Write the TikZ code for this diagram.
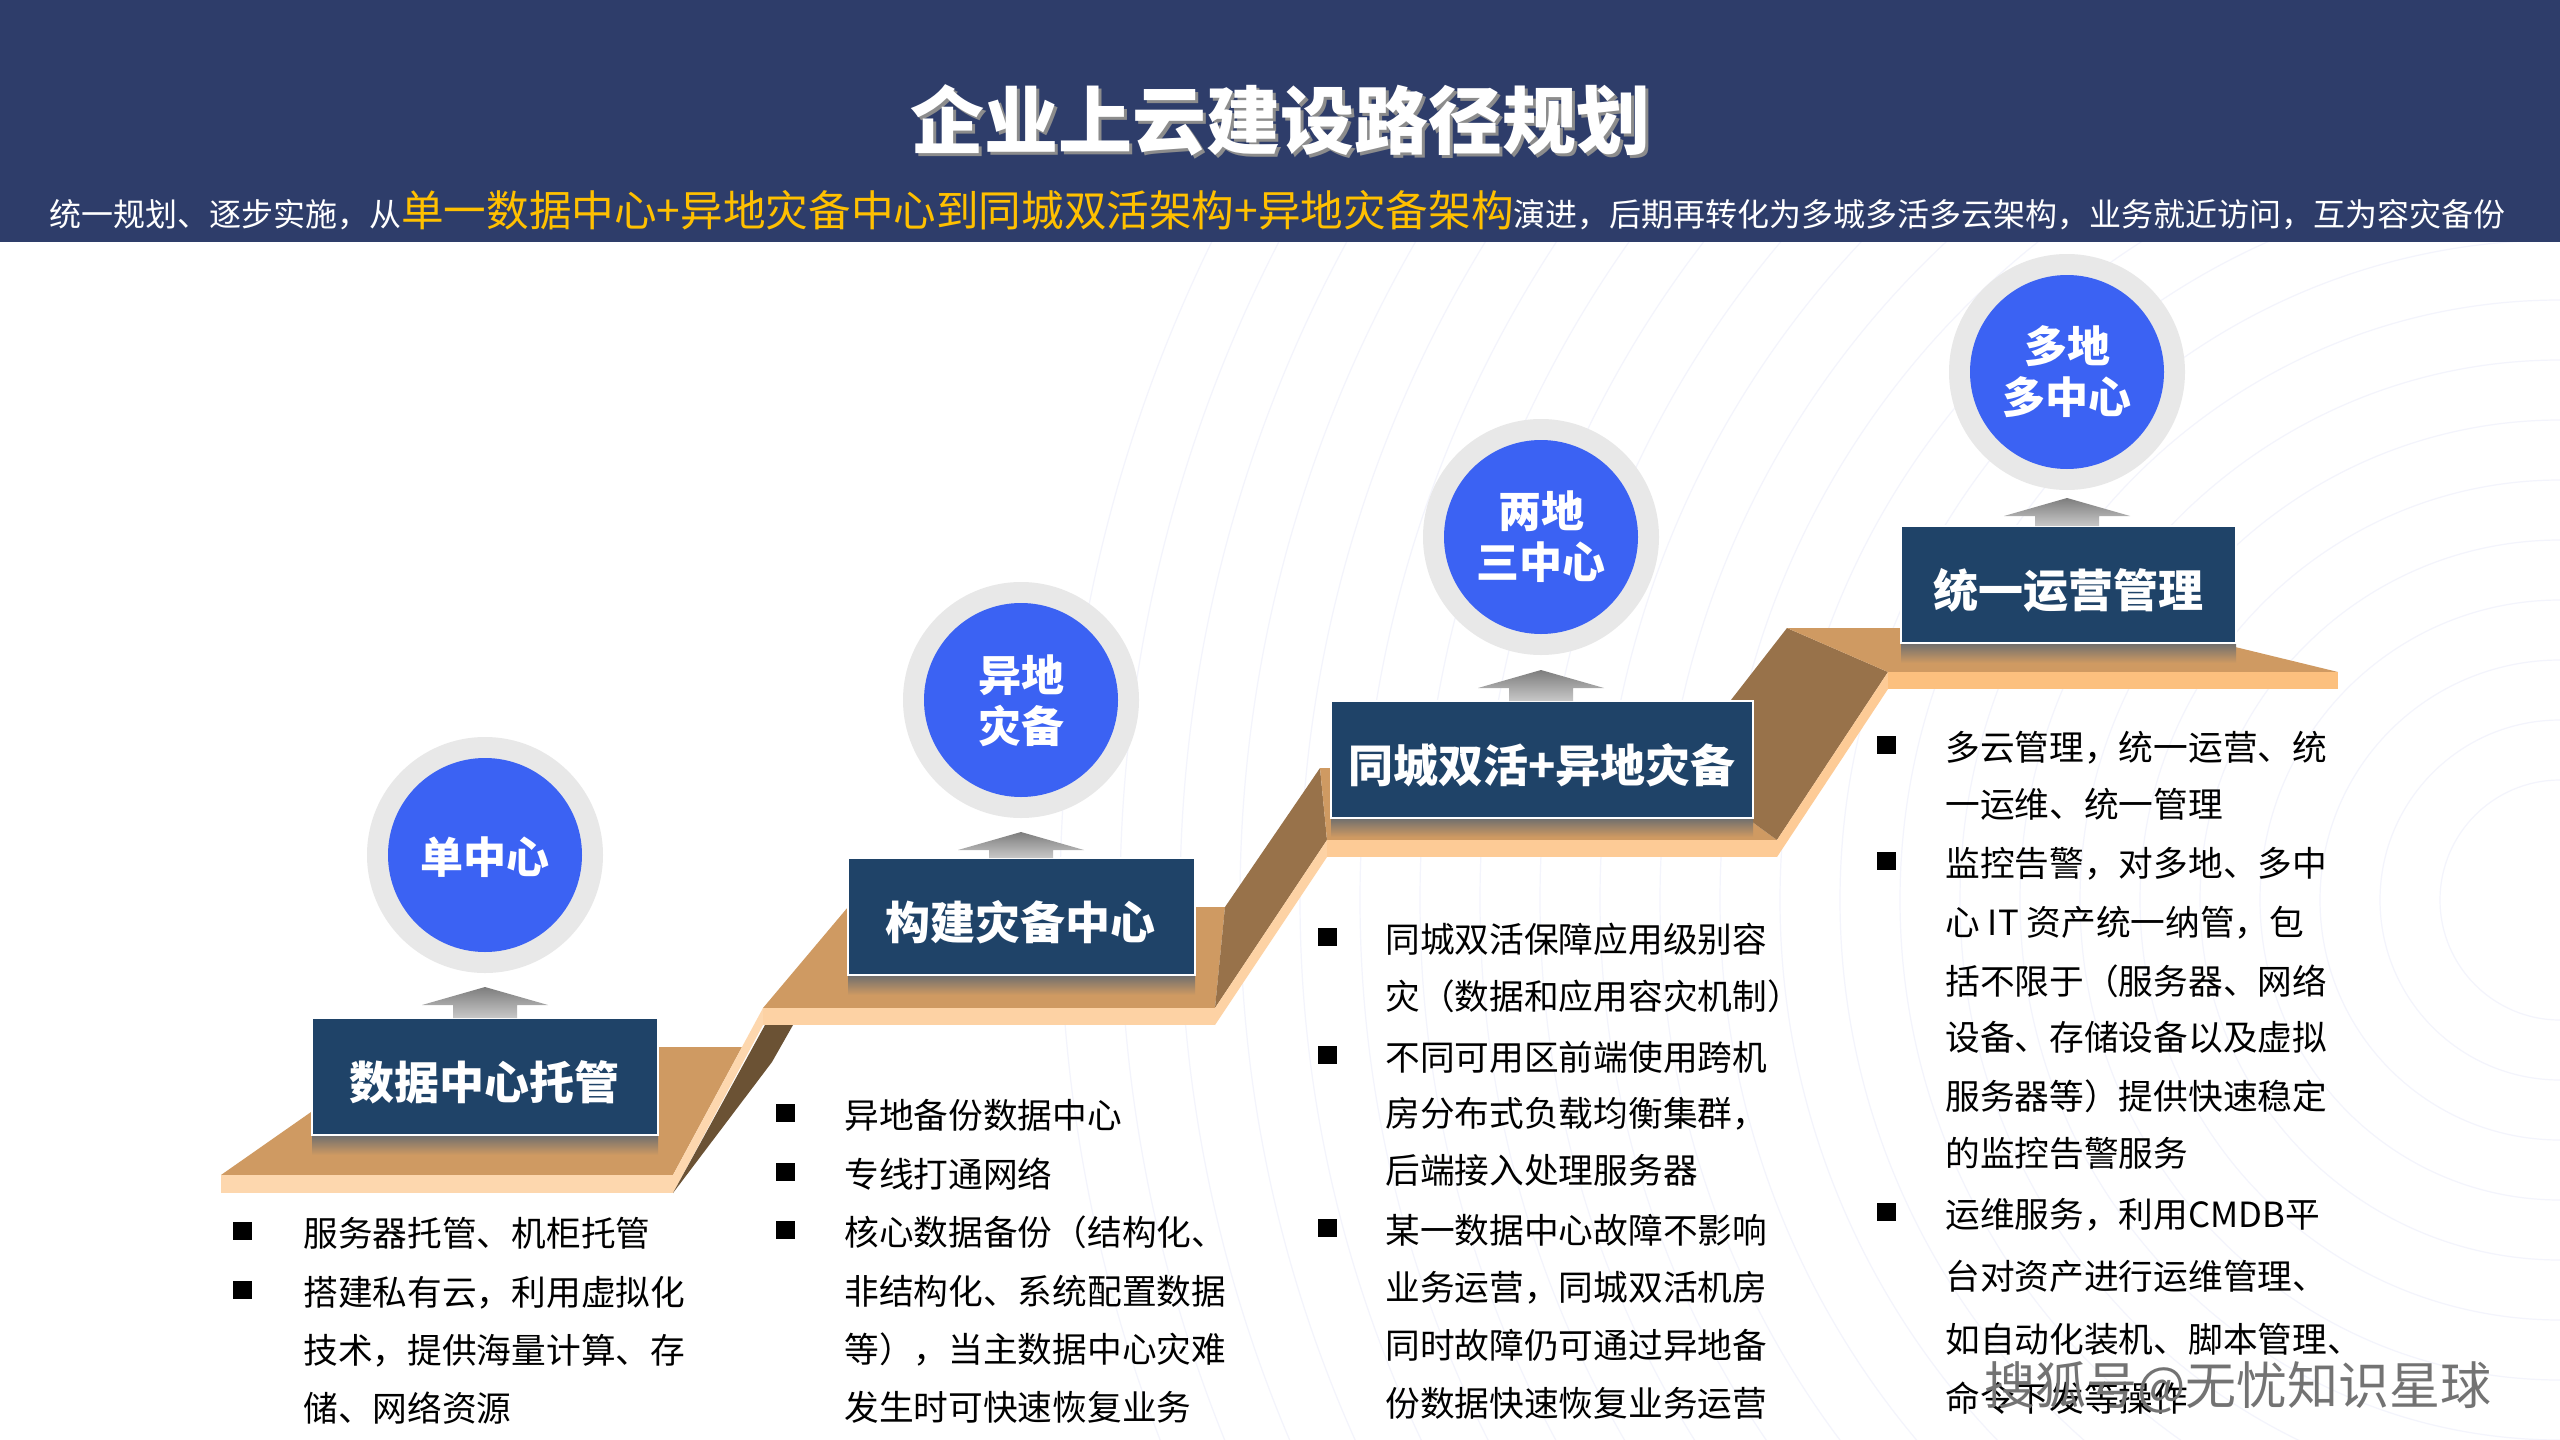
\documentclass[tikz,border=0pt]{standalone}
\usepackage{fontspec}
\setmainfont{Noto Sans CJK SC}
\definecolor{hdr}{HTML}{2E3D6A}
\definecolor{subyel}{HTML}{FFC000}
\definecolor{boxblue}{HTML}{1F4368}
\definecolor{ballblue}{HTML}{3B62F3}
\definecolor{ringgray}{HTML}{E8E8E8}
\definecolor{stepTan}{HTML}{CF9A62}
\definecolor{peachA}{HTML}{FDD7AE}
\definecolor{peachB}{HTML}{FDD2A4}
\definecolor{peachC}{HTML}{FDCB96}
\definecolor{peachD}{HTML}{FCC07E}
\definecolor{riserBrown}{HTML}{98724A}
\definecolor{underBrown}{HTML}{6B5234}
\definecolor{arcline}{HTML}{F3F4FC}
\definecolor{arrowTop}{HTML}{7D7D7D}
\definecolor{arrowBot}{HTML}{C8C8C8}
\definecolor{shadowGray}{HTML}{6E6E6E}
\begin{document}
\begin{tikzpicture}[x=0.5pt,y=-0.5pt,
  stepbox/.style={rectangle, fill=boxblue, draw=white, line width=0.6pt, minimum height=58.5pt, inner sep=0},
  ball/.style={circle, fill=ballblue, minimum size=97pt, inner sep=0},
  ringc/.style={circle, fill=ringgray, minimum size=118pt, inner sep=0},
  boxtext/.style={font=\fontsize{22.5}{24}\selectfont\bfseries, text=white, anchor=base, inner sep=0},
  balltext/.style={font=\fontsize{21.5}{24}\selectfont\bfseries, text=white, anchor=base, inner sep=0},
  body/.style={font=\fontsize{17.35}{20}\selectfont, anchor=base west, inner sep=0, text=black},
  bulletsq/.style={rectangle, fill=black, minimum width=9.5pt, minimum height=9pt, inner sep=0},
  topface/.style={fill=stepTan},
  boxshadow/.style={top color=shadowGray, bottom color=stepTan},
  uparrow/.style={top color=arrowTop, bottom color=arrowBot},
  wm/.style={font=\fontsize{25.5}{28}\selectfont, anchor=base west, inner sep=0}
]
\useasboundingbox (0,0) rectangle (2560,1440);
\fill[white] (0,0) rectangle (2560,1440);

% faint background arcs
\begin{scope}
  \clip (0,242) rectangle (2560,1440);
  \foreach \r in {120,180,...,1500}
    \draw[arcline, line width=0.6pt] (2560,900) circle[radius=\r];
\end{scope}

% header
\fill[hdr] (0,0) rectangle (2560,242);
\node[font=\fontsize{37}{40}\selectfont\bfseries, text=black!45, anchor=base, inner sep=0] (titleshadow) at (1283,151) {企业上云建设路径规划};
\node[font=\fontsize{37}{40}\selectfont\bfseries, text=white, anchor=base, inner sep=0] (title) at (1280,148) {企业上云建设路径规划};
\node[font=\fontsize{16}{20}\selectfont, text=white, anchor=base west, inner sep=0] (subtitle) at (49,226.5)
  {统一规划、逐步实施，从{\color{subyel}\fontsize{21.3}{24}\selectfont 单一数据中心+异地灾备中心到同城双活架构+异地灾备架构}演进，后期再转化为多城多活多云架构，业务就近访问，互为容灾备份};

% ---- staircase ----
% step 1
\fill[topface] (221,1175) -- (404,1047) -- (742,1047) -- (673,1175) -- cycle;
\fill[peachA] (221,1175) rectangle (673,1193);
\fill[peachA] (673,1175) -- (763,1008) -- (763,1025) -- (673,1193) -- cycle;
\fill[underBrown] (673,1193) -- (765,1025) -- (793,1025) -- (772,1062) -- cycle;
% step 2
\fill[topface] (763,1008) -- (848,907) -- (1225,907) -- (1215,1008) -- cycle;
\fill[peachB] (763,1008) rectangle (1215,1025);
\fill[riserBrown] (1215,1008) -- (1225,907) -- (1320,768) -- (1327,840) -- cycle;
\fill[peachB] (1215,1008) -- (1327,840) -- (1327,857) -- (1215,1025) -- cycle;
% step 3
\fill[topface] (1327,840) -- (1320,768) -- (1678,768) -- (1777,840) -- cycle;
\fill[peachC] (1327,840) rectangle (1777,857);
\fill[riserBrown] (1777,840) -- (1678,768) -- (1787,628) -- (1888,672) -- cycle;
\fill[peachC] (1777,840) -- (1888,672) -- (1888,689) -- (1777,857) -- cycle;
% step 4
\fill[topface] (1888,672) -- (1787,628) -- (2157,628) -- (2338,672) -- cycle;
\fill[peachD] (1888,672) rectangle (2338,689);

% box shadows
\shade[boxshadow] (312,1135) rectangle (658,1155);
\shade[boxshadow] (848,975) rectangle (1195,995);
\shade[boxshadow] (1331,818) rectangle (1753,837);
\shade[boxshadow] (1901,643) rectangle (2236,663);

% boxes
\node[stepbox, minimum width=173pt] (b1) at (485,1076.5) {};
\node[stepbox, minimum width=173.5pt] (b2) at (1021.5,916.5) {};
\node[stepbox, minimum width=211pt] (b3) at (1542,759.5) {};
\node[stepbox, minimum width=167.5pt] (b4) at (2068.5,584.5) {};
\node[boxtext] (b1t) at (484,1099) {数据中心托管};
\node[boxtext] (b2t) at (1020,939) {构建灾备中心};
\node[boxtext] (b3t) at (1542,782) {同城双活+异地灾备};
\node[boxtext] (b4t) at (2068,607) {统一运营管理};

% up arrows (box -> circle)
\foreach \cx/\tip/\bt in {485/987/1018, 1021/832/858, 1541/670/701, 2067/498/526}{
  \shade[uparrow] (\cx,\tip) -- ({\cx+63},{\tip+18}) -- ({\cx+32},{\tip+18}) -- ({\cx+32},\bt)
     -- ({\cx-32},\bt) -- ({\cx-32},{\tip+18}) -- ({\cx-63},{\tip+18}) -- cycle;
}

% circles
\node[ringc] (r1) at (485,855) {};
\node[ball] (c1) at (485,855) {};
\node[ringc] (r2) at (1021,700) {};
\node[ball] (c2) at (1021,700) {};
\node[ringc] (r3) at (1541,537) {};
\node[ball] (c3) at (1541,537) {};
\node[ringc] (r4) at (2067,372) {};
\node[ball] (c4) at (2067,372) {};
\node[balltext] (c1t) at (485,873) {单中心};
\node[balltext] (c2ta) at (1021,691) {异地};
\node[balltext] (c2tb) at (1021,742) {灾备};
\node[balltext] (c3ta) at (1541,527) {两地};
\node[balltext] (c3tb) at (1541,578) {三中心};
\node[balltext] (c4ta) at (2067,362) {多地};
\node[balltext] (c4tb) at (2067,413) {多中心};

% ---- bullet texts ----
\foreach \yy/\t [count=\i] in {1246/{服务器托管、机柜托管}, 1305/{搭建私有云，利用虚拟化}, 1363/{技术，提供海量计算、存}, 1421/{储、网络资源}}
  \node[body] (c1l\i) at (303,\yy) {\t};
\foreach \yy/\t [count=\i] in {1128/{异地备份数据中心}, 1187/{专线打通网络}, 1245/{核心数据备份（结构化、}, 1304/{非结构化、系统配置数据}, 1362/{等），当主数据中心灾难}, 1420/{发生时可快速恢复业务}}
  \node[body] (c2l\i) at (844,\yy) {\t};
\foreach \yy/\t [count=\i] in {952/{同城双活保障应用级别容}, 1009/{灾（数据和应用容灾机制）}, 1070/{不同可用区前端使用跨机}, 1126/{房分布式负载均衡集群，}, 1183/{后端接入处理服务器}, 1243/{某一数据中心故障不影响}, 1300/{业务运营，同城双活机房}, 1358/{同时故障仍可通过异地备}, 1416/{份数据快速恢复业务运营}}
  \node[body] (c3l\i) at (1385,\yy) {\t};
\foreach \yy/\t [count=\i] in {760/{多云管理，统一运营、统}, 817/{一运维、统一管理}, 876/{监控告警，对多地、多中}, 935/{心 IT 资产统一纳管，包}, 994/{括不限于（服务器、网络}, 1050/{设备、存储设备以及虚拟}, 1109/{服务器等）提供快速稳定}, 1166/{的监控告警服务}, 1227/{运维服务，利用CMDB平}, 1289/{台对资产进行运维管理、}, 1352/{如自动化装机、脚本管理、}, 1411/{命令下发等操作}}
  \node[body] (c4l\i) at (1945,\yy) {\t};

% bullets
\foreach \yy [count=\i] in {1231,1290} \node[bulletsq] (p1b\i) at (242,\yy) {};
\foreach \yy [count=\i] in {1113,1172,1230} \node[bulletsq] (p2b\i) at (785,\yy) {};
\foreach \yy [count=\i] in {937,1055,1228} \node[bulletsq] (p3b\i) at (1327,\yy) {};
\foreach \yy [count=\i] in {745,861,1212} \node[bulletsq] (p4b\i) at (1886,\yy) {};

% watermark
\node[wm, text=black!55] (wm) at (1984,1404) {搜狐号@无忧知识星球};
\end{tikzpicture}
\end{document}
